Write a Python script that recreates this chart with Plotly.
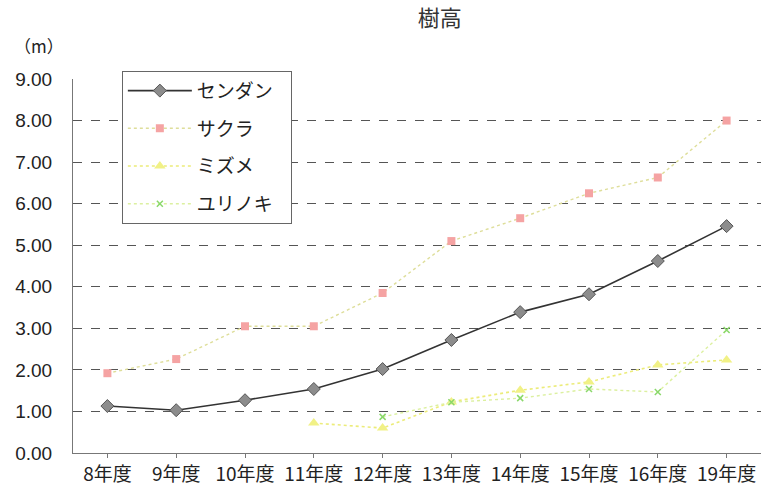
import plotly.graph_objects as go

years = ["8年度", "9年度", "10年度", "11年度", "12年度", "13年度", "14年度", "15年度", "16年度", "19年度"]

sendan = [1.13, 1.03, 1.27, 1.54, 2.02, 2.72, 3.39, 3.82, 4.62, 5.46]
sakura = [1.92, 2.26, 3.05, 3.05, 3.85, 5.10, 5.65, 6.25, 6.63, 8.00]
mizume = [None, None, None, 0.72, 0.60, 1.23, 1.51, 1.71, 2.12, 2.24]
yurinoki = [None, None, None, None, 0.87, 1.22, 1.32, 1.54, 1.47, 2.96]

y_ticks = [0, 1, 2, 3, 4, 5, 6, 7, 8, 9]

jp_font = "Noto Sans CJK JP"

fig = go.Figure()
fig.add_trace(go.Scatter(
    x=years, y=sendan, name="センダン   ", mode="lines+markers", legendgroup="a",
    line=dict(color="#333333", width=1.6),
    marker=dict(symbol="diamond", size=10, color="#8c8c8c", line=dict(color="#555", width=1)),
))
fig.add_trace(go.Scatter(
    x=years, y=sakura, name="サクラ", mode="lines+markers", legendgroup="b",
    line=dict(color="#dede9a", width=1.4, dash="dot"),
    marker=dict(symbol="square", size=8, color="#f5a3a3"),
))
fig.add_trace(go.Scatter(
    x=years, y=mizume, name="ミズメ", mode="lines+markers", legendgroup="c",
    line=dict(color="#ecec7a", width=1.6, dash="dot"),
    marker=dict(symbol="triangle-up", size=10, color="#f1f186"),
))
fig.add_trace(go.Scatter(
    x=years, y=yurinoki, name="ユリノキ", mode="lines+markers", legendgroup="d",
    line=dict(color="#dcf0a0", width=1.4, dash="dot"),
    marker=dict(symbol="x-thin", size=6, color="#8ad86a", line=dict(color="#8ad86a", width=1.5)),
))

fig.update_layout(
    width=761, height=493,
    margin=dict(l=73, r=0, t=79, b=40, autoexpand=False),
    paper_bgcolor="white", plot_bgcolor="white",
    font=dict(family=jp_font, color="#222", size=15),
    title=dict(text="樹高", x=0.578, xanchor="center", y=0.963, yanchor="middle",
               font=dict(family=jp_font, size=22, color="#333")),
    showlegend=True,
    legend=dict(
        x=0.071, y=1.022, xanchor="left", yanchor="top",
        bgcolor="white", bordercolor="#666", borderwidth=1,
        font=dict(family=jp_font, size=19, color="#222"),
        tracegroupgap=10, itemwidth=64,
    ),
    annotations=[dict(text="（m）", xref="paper", yref="paper", x=-0.049, y=1.09,
                      xanchor="center", yanchor="middle", showarrow=False,
                      font=dict(family=jp_font, size=17, color="#222"))],
)

fig.update_xaxes(
    type="category", range=[-0.5, 9.5], showgrid=False, showline=True,
    linecolor="#777", linewidth=1,
    ticks="outside", ticklen=4, tickcolor="#777", automargin=False,
    tickfont=dict(family=jp_font, size=19, color="#222"),
)
fig.update_yaxes(
    range=[0, 9], tickvals=y_ticks, ticktext=[f"{v:.2f}" for v in y_ticks],
    showgrid=True, gridcolor="#555", griddash="dash", gridwidth=1,
    showline=True, linecolor="#777", linewidth=1, zeroline=False,
    ticks="", ticklabelstandoff=16, automargin=False,
    tickfont=dict(family="Liberation Sans", size=19, color="#222"),
)

fig.write_html("out.html")
